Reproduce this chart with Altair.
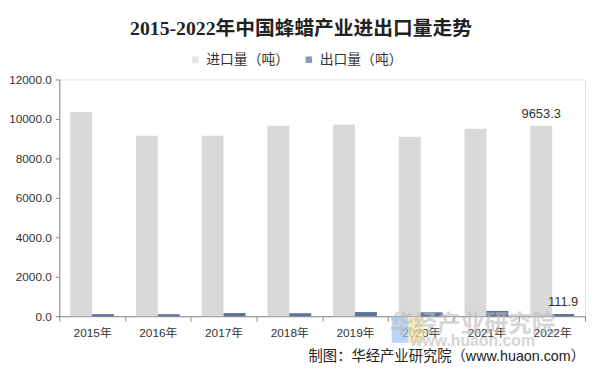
import altair as alt
import pandas as pd

years = ["2015年", "2016年", "2017年", "2018年", "2019年", "2020年", "2021年", "2022年"]
imports_t = [10350, 9150, 9150, 9650, 9700, 9100, 9500, 9653.3]
exports_t = [105, 100, 160, 150, 210, 200, 270, 111.9]
series = ["进口量（吨）", "出口量（吨）"]
colors = ["#d9d9d9", "#5b7399"]
y_ticks = [0, 2000, 4000, 6000, 8000, 10000, 12000]
title_text = "2015-2022年中国蜂蜡产业进出口量走势"
source_text = "制图：华经产业研究院（www.huaon.com）"

rows = []
for yr, i, e in zip(years, imports_t, exports_t):
    rows.append({"year": yr, "series": series[0], "value": i, "label": ""})
    rows.append({"year": yr, "series": series[1], "value": e, "label": ""})
rows[-2]["label"] = f"{imports_t[-1]:.1f}"
rows[-1]["label"] = f"{exports_t[-1]:.1f}"
df = pd.DataFrame(rows)

W, H = 533, 240
FONT = "Liberation Sans, Noto Sans CJK SC"
TFONT = "Liberation Serif, Noto Sans CJK SC"

x_axis = alt.Axis(title=None, labelAngle=0, tickBand="extent",
                  domainColor="#888888", tickColor="#888888", tickSize=5,
                  labelFontSize=12, labelColor="#333333", labelPadding=7,
                  labelFont=FONT)
y_axis = alt.Axis(title=None, values=y_ticks, format=".1f", grid=False,
                  domainColor="#888888", tickColor="#888888", tickSize=4,
                  labelFontSize=12, labelColor="#333333", labelPadding=4,
                  labelFont=FONT, labelOverlap=False, labelBound=False)
x_enc = alt.X("year:N", sort=years,
              scale=alt.Scale(paddingInner=0, paddingOuter=0), axis=x_axis)
y_enc = alt.Y("value:Q", scale=alt.Scale(domain=[0, 12000], nice=False), axis=y_axis)
xoff = alt.XOffset("series:N", sort=series,
                   scale=alt.Scale(paddingInner=0, paddingOuter=0.5))
color = alt.Color("series:N", sort=series,
                  scale=alt.Scale(domain=series, range=colors),
                  legend=alt.Legend(orient="none", legendX=131, legendY=-27,
                                    direction="horizontal", title=None,
                                    symbolType="square", symbolSize=45,
                                    symbolStrokeWidth=0, labelFontSize=14,
                                    labelFont=FONT, labelColor="#333333",
                                    columnPadding=13, padding=0, labelOffset=4))

base = alt.Chart(df)
bars = base.mark_bar().encode(x=x_enc, y=y_enc, xOffset=xoff, color=color)
labels = base.mark_text(dy=-12, fontSize=13, font=FONT, color="#333333").encode(
    x=x_enc, y=y_enc, xOffset=xoff, text="label:N")

def txt(t, x, y, size, **kw):
    return alt.Chart(pd.DataFrame({"t": [t]})).mark_text(fontSize=size, **kw).encode(
        x=alt.value(x), y=alt.value(y), text="t:N")

title = txt(title_text, 245, -51, 20, font=TFONT, fontWeight="bold", color="#222222")
source = txt(source_text, 533, 281, 14.5, font=FONT, color="#222222", align="right")
wm1 = txt("华经产业研究院", 419, 249, 24, font=FONT, fontWeight="bold", color="#bbbbbb", opacity=0.6)
wm2 = txt("www.huaon.com", 419, 265, 16, font=FONT, fontWeight="bold", color="#bbbbbb", opacity=0.6)
logo = alt.Chart(pd.DataFrame({"c": ["#9cc3f5", "#fbe49a"], "a": [337, 354], "b": [354, 370]})).mark_rect(opacity=0.7).encode(
    x=alt.X("a:Q", scale=None), x2="b:Q", y=alt.value(241), y2=alt.value(267),
    color=alt.Color("c:N", scale=None))

chart = alt.layer(logo, bars, labels, wm1, wm2, title, source).properties(
    width=W, height=H,
    autosize=alt.AutoSizeParams(type="none"),
    padding={"left": 52, "top": 70, "right": 2, "bottom": 48},
).configure_view(stroke=None).configure(background="white").configure_axis(labelOverlap=False)

chart.save("out.html", embed_options={"renderer": "svg", "actions": False})
